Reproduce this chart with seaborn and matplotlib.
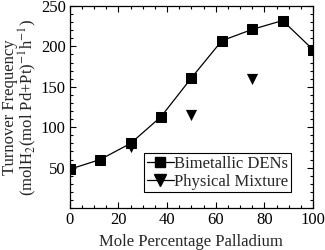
import matplotlib
matplotlib.use("Agg")
import matplotlib.pyplot as plt
import seaborn as sns
import pandas as pd
from matplotlib.lines import Line2D
from matplotlib.ticker import MultipleLocator

bimetal_x = [0, 12.5, 25, 37.5, 50, 62.5, 75, 87.5, 100]
bimetal_y = [48, 60, 80, 113, 161, 207, 221, 232, 196]
phys_x = [25, 50, 75, 100]
phys_y = [76, 115, 160, 194]

sns.set_style("ticks")
plt.rcParams['font.family'] = ['Liberation Serif', 'DejaVu Serif']
plt.rcParams['mathtext.fontset'] = 'stix'

fig = plt.figure(figsize=(3.25, 2.5), dpi=100)
ax = fig.add_axes([0.215, 0.168, 0.748, 0.808])

df_b = pd.DataFrame({"x": bimetal_x, "y": bimetal_y})
df_p = pd.DataFrame({"x": phys_x, "y": phys_y})
sns.lineplot(data=df_b, x="x", y="y", ax=ax, color="black", lw=0.9,
             marker="s", markersize=6.5, markeredgecolor="black")
sns.scatterplot(data=df_p, x="x", y="y", ax=ax, color="black", marker="v",
                s=65, edgecolor="black", linewidth=0, zorder=3)

ax.set_xlim(0, 100)
ax.set_ylim(0, 250)
ax.xaxis.set_major_locator(MultipleLocator(20))
ax.xaxis.set_minor_locator(MultipleLocator(5))
ax.set_yticks([50, 100, 150, 200, 250])
ax.yaxis.set_minor_locator(MultipleLocator(10))
ax.tick_params(which="both", direction="in", top=True, right=True,
               labelsize=12, width=0.8, colors="black", pad=3)
ax.tick_params(which="major", length=4)
ax.tick_params(which="minor", length=2)
for s in ax.spines.values():
    s.set_linewidth(0.9)
    s.set_color("black")

ax.set_xlabel("Mole Percentage Palladium", fontsize=12, labelpad=4)
ax.set_ylabel("Turnover Frequency\n(molH$_2$(mol Pd+Pt)$^{-1}$h$^{-1}$)",
              fontsize=12, labelpad=1, linespacing=0.95)

handles = [
    Line2D([], [], color="black", lw=0.9, marker="s", markersize=6.5),
    Line2D([], [], color="black", lw=0.9, marker="v", markersize=8),
]
ax.legend(handles, ["Bimetallic DENs", "Physical Mixture"], loc="lower right",
          bbox_to_anchor=(0.91, 0.079), fontsize=12, frameon=True, fancybox=False,
          edgecolor="black", framealpha=1, handlelength=1.6, handletextpad=0.05,
          borderpad=0.15, labelspacing=0.1, borderaxespad=0)
ax.get_legend().get_frame().set_linewidth(0.8)

fig.savefig("out.png", dpi=100)
